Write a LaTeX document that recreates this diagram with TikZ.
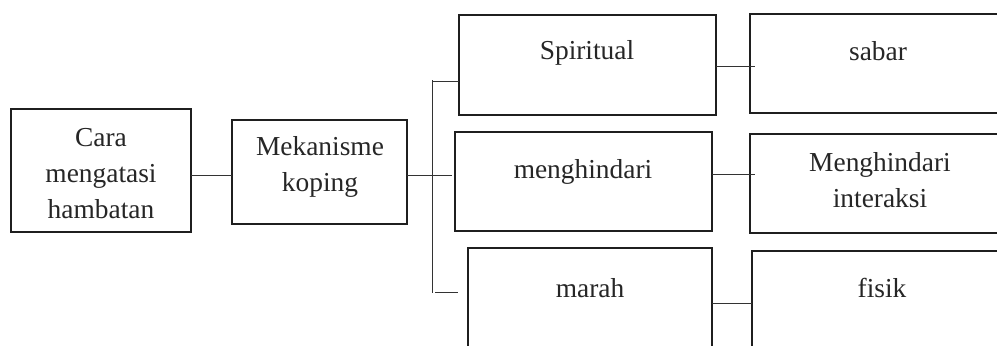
\documentclass[tikz,border=0pt]{standalone}
\usepackage{fontspec}
\setmainfont{Liberation Serif}
\begin{document}
\begin{tikzpicture}[x=0.5pt,y=-0.5pt,
  box/.style={draw=black!88, line width=1.2pt, rectangle, inner sep=0pt, outer sep=0pt},
  lbl/.style={align=center, inner sep=0pt, text=black!85, font=\fontsize{13.7}{18}\selectfont},
  link/.style={draw=black!80, line width=0.5pt}]
  \useasboundingbox (0,0) rectangle (997,345);
  \fill[white] (0,0) rectangle (997,345);
  \clip (0,0) rectangle (997,345);

  % boxes (the right column and bottom row run off the page edge)
  \node[box, minimum width=90pt,  minimum height=61.5pt] (cara)  at (101,170.5) {};
  \node[box, minimum width=87.5pt, minimum height=52pt]  (meka)  at (319.5,172) {};
  \node[box, minimum width=128.5pt, minimum height=50pt] (spir)  at (587.5,65) {};
  \node[box, minimum width=128.5pt, minimum height=49.5pt] (meng) at (583.5,181.5) {};
  \node[box, minimum width=122pt, minimum height=56pt]   (marah) at (590,304) {};
  \node[box, minimum width=130pt, minimum height=49.5pt] (sabar) at (880,63.5) {};
  \node[box, minimum width=130pt, minimum height=49.5pt] (minter) at (880,183.5) {};
  \node[box, minimum width=129pt, minimum height=56pt]   (fisik) at (881,307) {};

  % texts
  \node[lbl] (caraT)  at (101,174) {Cara\\mengatasi\\hambatan};
  \node[lbl] (mekaT)  at (320,167) {Mekanisme\\koping};
  \node[lbl] (spirT)  at (587,53)  {Spiritual};
  \node[lbl] (mengT)  at (583,172) {menghindari};
  \node[lbl] (marahT) at (590,288) {marah};
  \node[lbl] (sabarT) at (878,51)  {sabar};
  \node[lbl] (minterT) at (880,180) {Menghindari\\interaksi};
  \node[lbl] (fisikT) at (882,288) {fisik};

  % branching bus
  \coordinate (j1) at (432,175);
  \coordinate (busTop) at (432,80);
  \coordinate (busBot) at (432,293);
  \coordinate (mengStub) at (452,175);
  \coordinate (marahStub) at (458,292);
  \coordinate (marahStart) at (435,292);

  \draw[link] (cara.east |- j1) -- (meka.west |- j1);
  \draw[link] (meka.east |- j1) -- (mengStub);
  \draw[link] (busTop) -- (busBot);
  \draw[link] (busTop |- 0,81) -- (spir.west |- 0,81);
  \draw[link] (marahStart) -- (marahStub);

  % second-level links
  \draw[link] (spir.east |- 0,66) -- ([xshift=2.5pt]sabar.west |- 0,66);
  \draw[link] (meng.east |- 0,174) -- ([xshift=2.5pt]minter.west |- 0,174);
  \draw[link] (marah.east |- 0,303) -- (fisik.west |- 0,303);
\end{tikzpicture}
\end{document}
